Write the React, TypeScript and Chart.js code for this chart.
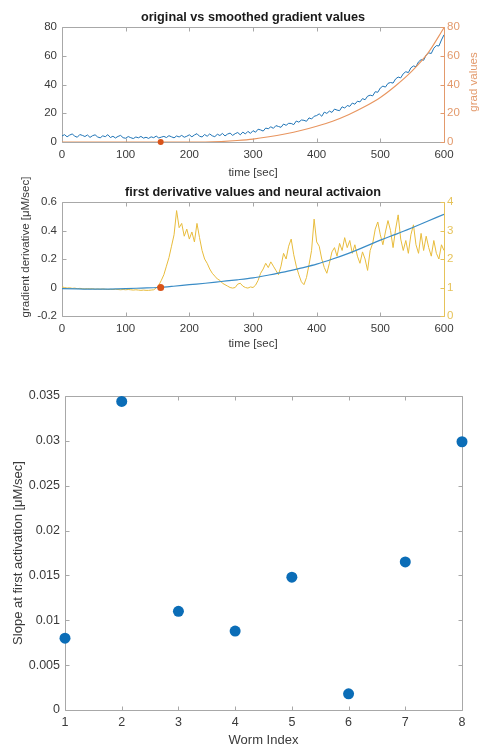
import { useEffect, useRef } from 'react';
import { Chart, registerables } from 'chart.js';

Chart.register(...registerables);

const FONT = '"Liberation Sans", Arial, Helvetica, sans-serif';

// ---------- Plot 1: original vs smoothed gradient values ----------
const GRAD_STEP = 4; // seconds between raw samples
const GRAD_RAW = [
  4.2, 5.1, 3.6, 4.8, 5.6, 4.1, 3.3, 5.2, 4.6, 3.8, 4.9, 3.2, 4.4, 5.0, 3.5, 2.9, 4.3, 3.7, 5.1, 3.1, 4.0, 2.8, 3.9, 4.6, 3.0,
  2.6, 3.8, 3.0, 2.4, 3.5, 2.9, 3.9, 2.7, 3.3, 2.5, 3.6, 3.0, 4.1, 2.8, 3.4, 3.9, 3.1, 4.4, 3.6, 2.9, 4.2, 3.5, 4.6, 3.3, 4.0,
  5.0, 3.6, 4.9, 5.8, 4.0, 3.5, 5.2, 4.0, 5.6, 4.3, 3.7, 5.4, 4.5, 6.0, 4.2, 5.5, 6.2, 4.6, 5.8, 6.6, 5.0, 6.9, 5.6, 7.4, 6.0,
  7.9, 6.8, 8.9, 8.4, 7.6, 9.7, 9.2, 10.6, 9.5, 11.4, 10.8, 10.2, 12.5, 11.6, 13.0, 12.9, 12.1, 14.6, 13.8, 15.3, 15.1, 14.4, 16.8, 16.0, 17.9,
  18.4, 19.6, 17.9, 20.8, 19.9, 21.5, 20.6, 22.9, 22.2, 21.8, 24.5, 23.6, 25.4, 24.8, 27.1, 26.3, 28.4, 27.9, 30.2, 29.4, 31.9, 32.6, 32.1, 35.0, 34.6,
  37.6, 38.9, 38.2, 40.8, 41.4, 41.0, 43.9, 45.2, 44.6, 47.5, 48.9, 48.3, 51.6, 52.9, 52.4, 55.8, 57.3, 56.9, 60.5, 62.0, 61.6, 65.3, 67.1, 66.8, 71.0, 74.6,
];
const SMOOTH_STEP = 25;
const GRAD_SMOOTH = [
  0, 0, 0, 0, 0, 0, 0, 0, 0, 0,
  0.3, 1.0, 2.0, 3.6, 5.6, 8.0, 11, 14.5, 19, 24.5, 31, 39.5, 49.5, 62, 79.5,
];
const ACT_TIME = 155;
const ACT_GRAD = 0;
const TIME_TICKS = [0, 100, 200, 300, 400, 500, 600];
const GRAD_TICKS = [0, 20, 40, 60, 80];

// ---------- Plot 2: first derivative and neural activation ----------
const DERIV_STEP = 25;
const DERIV = [
  -0.008, -0.010, -0.012, -0.011, -0.008, -0.004, 0.0, 0.009, 0.02, 0.03, 0.042, 0.054, 0.068,
  0.088, 0.11, 0.136, 0.164, 0.20, 0.24, 0.285, 0.333, 0.375, 0.42, 0.467, 0.514,
];
const NEURAL_STEP = 4;
const NEURAL = [
  1.02, 1.00, 0.98, 0.99, 0.97, 0.98, 0.96, 0.97, 0.96, 0.95, 0.96, 0.95, 0.96, 0.94, 0.95, 0.94, 0.95, 0.94, 0.93, 0.94, 0.93, 0.94, 0.93, 0.92, 0.93,
  0.92, 0.93, 0.92, 0.91, 0.92, 0.91, 0.90, 0.91, 0.90, 0.90, 0.91, 0.92, 0.98, 1.08, 1.25, 1.45, 1.75, 2.05, 2.45, 2.85, 3.7, 3.1, 3.25, 2.8, 3.05,
  2.7, 2.95, 2.6, 3.25, 2.75, 2.3, 2.0, 1.85, 1.65, 1.5, 1.4, 1.3, 1.25, 1.15, 1.1, 1.05, 1.0, 0.98, 1.0, 1.12, 1.15, 1.05, 1.0, 0.98, 1.02,
  1.0, 1.08, 1.25, 1.5, 1.65, 1.85, 1.7, 1.9, 1.75, 1.6, 1.45, 1.75, 2.2, 2.0, 2.45, 2.7, 2.15, 1.75, 1.45, 1.2, 1.1, 1.35, 1.8, 2.3, 3.4,
  2.6, 2.45, 2.0, 1.7, 1.5, 1.85, 2.25, 2.4, 2.1, 2.55, 2.3, 2.75, 2.4, 2.65, 2.2, 2.5, 2.1, 1.85, 2.25, 2.0, 1.6, 2.3, 2.55, 3.05, 3.3,
  2.85, 2.5, 2.95, 3.35, 3.0, 2.4, 3.05, 3.55, 2.7, 2.3, 2.65, 2.2, 2.85, 3.2, 2.5, 2.2, 2.9, 2.3, 2.8, 2.4, 2.1, 2.65, 2.2, 2.0, 2.5, 2.3,
];
const ACT_DERIV = 0;
const DERIV_TICKS = [-0.2, 0, 0.2, 0.4, 0.6];
const NEURAL_TICKS = [0, 1, 2, 3, 4];

// ---------- Plot 3: slope at first activation ----------
const WORMS = [1, 2, 3, 4, 5, 6, 7, 8];
const SLOPES = [0.008, 0.0344, 0.011, 0.0088, 0.0148, 0.0018, 0.0165, 0.0299];
const SLOPE_TICKS = [0, 0.005, 0.01, 0.015, 0.02, 0.025, 0.03, 0.035];

// ---------- styles ----------
const BLUE = '#1f74b6';
const BLUE2 = '#3a8cc6';
const ORANGE = '#e8955f';
const ORANGE_AX = '#e39a6c';
const RED = '#d95319';
const YELLOW = '#e8bc3c';
const YELLOW_AX = '#e6c35a';
const AXIS = '#a8a8a8';
const TICK_TXT = '#3a3a3a';
const TITLE_TXT = '#1a1a1a';

const toXY = (vals: number[], step: number) => vals.map((y, i) => ({ x: i * step, y }));
const setTicks = (arr: number[]) => (s: any) => {
  s.ticks = arr.map((v) => ({ value: v }));
};

function boxPlugin(color: string, rightColor: string, tickLen = 4) {
  return {
    id: 'mbox',
    beforeDatasetsDraw(chart: any) {
      const { ctx, chartArea: a, scales } = chart;
      const px = (v: number) => Math.round(v) + 0.5;
      const L = px(a.left), R = px(a.right), T = px(a.top), B = px(a.bottom);
      ctx.save();
      ctx.lineWidth = 1;
      ctx.strokeStyle = color;
      ctx.beginPath();
      ctx.moveTo(R, T); ctx.lineTo(L, T); ctx.lineTo(L, B); ctx.lineTo(R, B);
      for (const t of scales.x.ticks) {
        const p = px(scales.x.getPixelForValue(t.value));
        ctx.moveTo(p, B); ctx.lineTo(p, B - tickLen);
        ctx.moveTo(p, T); ctx.lineTo(p, T + tickLen);
      }
      for (const t of scales.y.ticks) {
        const p = px(scales.y.getPixelForValue(t.value));
        ctx.moveTo(L, p); ctx.lineTo(L + tickLen, p);
      }
      ctx.stroke();
      ctx.strokeStyle = rightColor;
      ctx.beginPath();
      ctx.moveTo(R, T); ctx.lineTo(R, B);
      const rs = scales.y2 || scales.y;
      for (const t of rs.ticks) {
        const p = px(rs.getPixelForValue(t.value));
        ctx.moveTo(R, p); ctx.lineTo(R - tickLen, p);
      }
      ctx.stroke();
      ctx.restore();
    },
  };
}

function textPlugin(items: { text: string; x: number; y: number; rot: number; color: string; size: number }[]) {
  return {
    id: 'freeText',
    afterDraw(chart: any) {
      const { ctx } = chart;
      for (const it of items) {
        ctx.save();
        ctx.translate(it.x, it.y);
        ctx.rotate(it.rot);
        ctx.font = `${it.size}px ${FONT}`;
        ctx.fillStyle = it.color;
        ctx.textAlign = 'center';
        ctx.textBaseline = 'middle';
        ctx.fillText(it.text, 0, 0);
        ctx.restore();
      }
    },
  };
}

const f = (size: number, weight: any = 'normal') => ({ family: FONT, size, weight });

export default function App() {
  const r1 = useRef<HTMLCanvasElement>(null);
  const r2 = useRef<HTMLCanvasElement>(null);
  const r3 = useRef<HTMLCanvasElement>(null);

  useEffect(() => {
    const common = {
      responsive: false,
      animation: false,
      events: [],
      maintainAspectRatio: false,
    };

    const c1 = new Chart(r1.current!, {
      type: 'line',
      data: {
        datasets: [
          {
            data: toXY(GRAD_RAW, GRAD_STEP), borderColor: BLUE, borderWidth: 1, pointRadius: 0, yAxisID: 'y', order: 2,
          },
          {
            data: toXY(GRAD_SMOOTH, SMOOTH_STEP), borderColor: ORANGE, borderWidth: 1.1, pointRadius: 0, yAxisID: 'y2',
            cubicInterpolationMode: 'monotone', order: 1,
          },
          {
            data: [{ x: ACT_TIME, y: ACT_GRAD }], showLine: false, pointRadius: 3, pointBackgroundColor: RED,
            pointBorderWidth: 0, yAxisID: 'y', order: 0, clip: false,
          },
        ],
      },
      options: {
        ...common,
        layout: { padding: 0 },
        plugins: {
          legend: { display: false },
          tooltip: { enabled: false },
          title: {
            display: true, fullSize: false, text: 'original vs smoothed gradient values', color: TITLE_TXT,
            font: f(12.7, 'bold'), padding: { top: 9.4, bottom: 2.4 },
          },
        },
        scales: {
          x: {
            type: 'linear', min: 0, max: 600, afterBuildTicks: setTicks(TIME_TICKS),
            afterFit: (s: any) => { s.height = 38; },
            grid: { display: false, drawTicks: false }, border: { display: false },
            ticks: { padding: 6.4, color: TICK_TXT, font: f(11.5), maxRotation: 0, autoSkip: false, callback: (v: any) => String(v) },
            title: { display: true, text: 'time [sec]', color: TICK_TXT, font: f(11.5), padding: { top: 0, bottom: 0.5 } },
          },
          y: {
            min: 0, max: 80, afterBuildTicks: setTicks(GRAD_TICKS),
            afterFit: (s: any) => { s.width = 62; },
            grid: { display: false, drawTicks: false }, border: { display: false },
            ticks: { padding: 5, color: TICK_TXT, font: f(11.5), callback: (v: any) => String(v) },
          },
          y2: {
            position: 'right', min: 0, max: 80, afterBuildTicks: setTicks(GRAD_TICKS),
            afterFit: (s: any) => { s.width = 35; },
            grid: { display: false, drawTicks: false }, border: { display: false },
            ticks: { padding: 3, color: ORANGE_AX, font: f(11.5), callback: (v: any) => String(v) },
          },
        },
      } as any,
      plugins: [
        boxPlugin(AXIS, ORANGE_AX),
        textPlugin([{ text: 'grad values', x: 474, y: 82, rot: -Math.PI / 2, color: ORANGE_AX, size: 11.5 }]),
      ],
    } as any);

    const c2 = new Chart(r2.current!, {
      type: 'line',
      data: {
        datasets: [
          {
            data: toXY(NEURAL, NEURAL_STEP), borderColor: YELLOW, borderWidth: 1, pointRadius: 0, yAxisID: 'y2', order: 2,
          },
          {
            data: toXY(DERIV, DERIV_STEP), borderColor: BLUE2, borderWidth: 1.2, pointRadius: 0, yAxisID: 'y',
            cubicInterpolationMode: 'monotone', order: 1,
          },
          {
            data: [{ x: ACT_TIME, y: ACT_DERIV }], showLine: false, pointRadius: 3.5, pointBackgroundColor: RED,
            pointBorderWidth: 0, yAxisID: 'y', order: 0, clip: false,
          },
        ],
      },
      options: {
        ...common,
        layout: { padding: 0 },
        plugins: {
          legend: { display: false },
          tooltip: { enabled: false },
          title: {
            display: true, fullSize: false, text: 'first derivative values and neural activaion', color: TITLE_TXT,
            font: f(12.7, 'bold'), padding: { top: 9.1, bottom: 1.7 },
          },
        },
        scales: {
          x: {
            type: 'linear', min: 0, max: 600, afterBuildTicks: setTicks(TIME_TICKS),
            afterFit: (s: any) => { s.height = 40; },
            grid: { display: false, drawTicks: false }, border: { display: false },
            ticks: { padding: 5.8, color: TICK_TXT, font: f(11.5), maxRotation: 0, autoSkip: false, callback: (v: any) => String(v) },
            title: { display: true, text: 'time [sec]', color: TICK_TXT, font: f(11.5), padding: { top: 0, bottom: 5.1 } },
          },
          y: {
            min: -0.2, max: 0.6, afterBuildTicks: setTicks(DERIV_TICKS),
            afterFit: (s: any) => { s.width = 62; },
            grid: { display: false, drawTicks: false }, border: { display: false },
            ticks: { padding: 5, color: TICK_TXT, font: f(11.5), callback: (v: any) => String(v) },
          },
          y2: {
            position: 'right', min: 0, max: 4, afterBuildTicks: setTicks(NEURAL_TICKS),
            afterFit: (s: any) => { s.width = 35; },
            grid: { display: false, drawTicks: false }, border: { display: false },
            ticks: { padding: 3, color: YELLOW_AX, font: f(11.5), callback: (v: any) => String(v) },
          },
        },
      } as any,
      plugins: [
        boxPlugin(AXIS, YELLOW_AX),
        textPlugin([{ text: 'gradient derivative [μM/sec]', x: 26, y: 71, rot: -Math.PI / 2, color: TICK_TXT, size: 11.5 }]),
      ],
    } as any);

    const c3 = new Chart(r3.current!, {
      type: 'scatter',
      data: {
        datasets: [
          {
            data: WORMS.map((w, i) => ({ x: w, y: SLOPES[i] })), pointRadius: 5.5, pointBackgroundColor: '#0b6db7',
            pointBorderWidth: 0, clip: false,
          },
        ],
      },
      options: {
        ...common,
        layout: { padding: { top: 26, right: 17, left: 0, bottom: 0 } },
        plugins: { legend: { display: false }, tooltip: { enabled: false } },
        scales: {
          x: {
            type: 'linear', min: 1, max: 8, afterBuildTicks: setTicks(WORMS),
            afterFit: (s: any) => { s.height = 36; },
            grid: { display: false, drawTicks: false }, border: { display: false },
            ticks: { padding: 5, color: TICK_TXT, font: f(12.5), maxRotation: 0, autoSkip: false, callback: (v: any) => String(v) },
            title: { display: true, text: 'Worm Index', color: TICK_TXT, font: f(13), padding: { top: 0, bottom: -1.8 } },
          },
          y: {
            min: 0, max: 0.035, afterBuildTicks: setTicks(SLOPE_TICKS),
            afterFit: (s: any) => { s.width = 65; },
            grid: { display: false, drawTicks: false }, border: { display: false },
            ticks: { padding: 5, color: TICK_TXT, font: f(12.5), callback: (v: any) => String(v) },
            title: { display: true, text: 'Slope at first activation [μM/sec]', color: TICK_TXT, font: f(13), padding: { top: 10.5, bottom: 0 } },
          },
        },
      } as any,
      plugins: [boxPlugin(AXIS, AXIS)],
    } as any);

    return () => {
      c1.destroy();
      c2.destroy();
      c3.destroy();
    };
  }, []);

  return (
    <div style={{ position: 'absolute', left: 0, top: 0, width: 479, height: 746, overflow: 'hidden', background: '#fff' }}>
      <canvas ref={r1} width={479} height={180} style={{ position: 'absolute', left: 0, top: 0 }} />
      <canvas ref={r2} width={479} height={180} style={{ position: 'absolute', left: 0, top: 176 }} />
      <canvas ref={r3} width={479} height={376} style={{ position: 'absolute', left: 0, top: 370 }} />
    </div>
  );
}
